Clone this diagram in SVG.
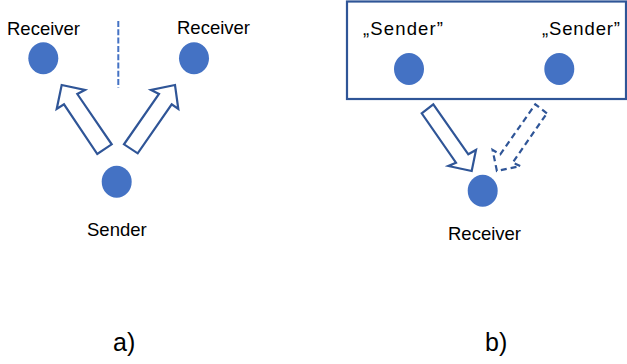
<svg xmlns="http://www.w3.org/2000/svg" width="627" height="364" viewBox="0 0 627 364">
<style>
.lbl{font-family:"Liberation Sans","Open Sans",sans-serif;font-size:18.5px;fill:#000}
.cap{font-family:"Liberation Sans","Open Sans",sans-serif;font-size:25px;fill:#000}
.dot{fill:#4472C4}
.arr{fill:#fff;stroke:#2F5597;stroke-width:2.2;stroke-linejoin:miter}
.dash{stroke-dasharray:6 4}
</style>
<rect width="627" height="364" fill="#fff"/>
<g id="panel-a">
  <g id="receiver-left"><ellipse class="dot" cx="43.3" cy="58.3" rx="15" ry="16"/><text class="lbl" x="7" y="35">Receiver</text></g>
  <g id="receiver-right"><ellipse class="dot" cx="194" cy="58.3" rx="15" ry="16"/><text class="lbl" x="177" y="34">Receiver</text></g>
  <g id="sender"><ellipse class="dot" cx="116.7" cy="181.7" rx="15" ry="16"/><text class="lbl" x="87" y="236">Sender</text></g>
  <line id="divider" x1="118.3" y1="21" x2="118.3" y2="88" stroke="#4472C4" stroke-width="2" stroke-dasharray="6 2.3"/>
  <text class="cap" x="113" y="351">a)</text>
</g>
<g id="panel-b">
  <g id="sender-group"><rect x="347" y="1.5" width="279" height="97.5" fill="none" stroke="#2F5597" stroke-width="2.2"/></g>
  <g id="sender-1"><ellipse class="dot" cx="409" cy="69" rx="15" ry="16"/><text class="lbl" x="363" y="35" textLength="80">„Sender”</text></g>
  <g id="sender-2"><ellipse class="dot" cx="559.3" cy="69" rx="15" ry="16"/><text class="lbl" x="542" y="35" textLength="78">„Sender”</text></g>
  <g id="receiver-b"><ellipse class="dot" cx="482.7" cy="190.7" rx="15" ry="16"/><text class="lbl" x="448" y="240">Receiver</text></g>
  <text class="cap" x="485" y="351">b)</text>
</g>
<g id="connectors">
  <polygon class="arr" points="61.7,85 85,90 77.3,94 111.7,144.3 97.3,154 64,104.3 56.7,109"/>
  <polygon class="arr" points="175,85 151,90 159,94 124,144.3 137.7,153.3 171.7,104.3 178.3,109"/>
  <polygon class="arr" points="421.7,113.3 433.3,104.3 468.3,154.3 476,150 471.7,171 448.3,166 456,162.7"/>
  <polygon class="arr dash" points="546.9,113.3 535.3,104.3 500.3,154.3 492.6,150 496.9,171 520.3,166 512.6,162.7"/>
</g>
</svg>
